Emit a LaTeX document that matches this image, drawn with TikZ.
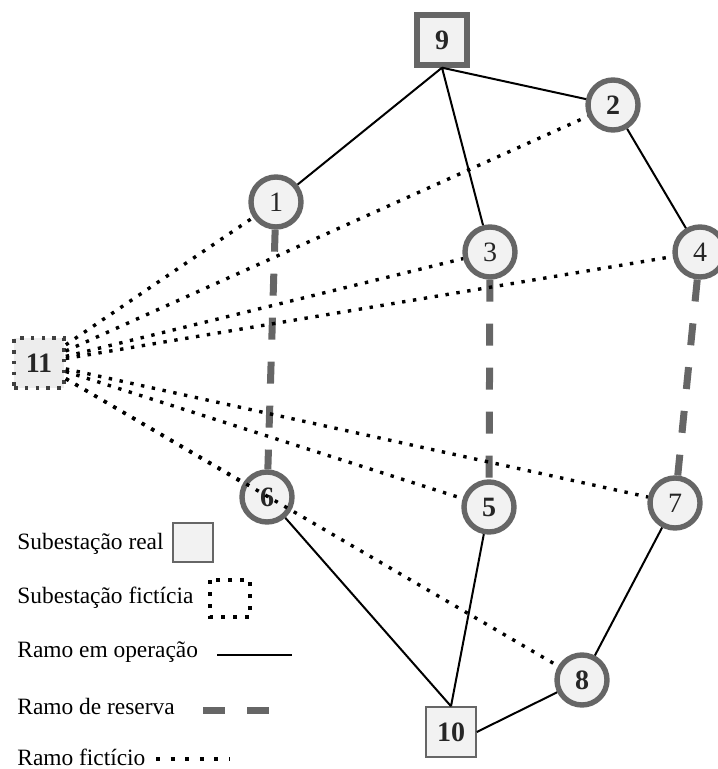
\documentclass[tikz,border=0pt]{standalone}
\usepackage{fontspec}
\setmainfont{Liberation Serif}
\definecolor{borda}{HTML}{666666}
\definecolor{fundo}{HTML}{F2F2F2}
\begin{document}
\begin{tikzpicture}[x=0.5pt,y=-0.5pt,
    barra/.style={circle,draw=borda,line width=2.7pt,fill=fundo,minimum size=25pt,inner sep=0pt,text=black!85,font=\fontsize{14}{14}\selectfont},
    sub/.style={rectangle,draw=borda,fill=fundo,minimum size=25pt,inner sep=0pt,text=black!85,font=\fontsize{14}{14}\selectfont\bfseries},
    operacao/.style={black,line width=1pt},
    reserva/.style={borda,line width=3.5pt,dash pattern=on 11pt off 11pt},
    ficticio/.style={black,line width=1.7pt,dash pattern=on 1.7pt off 3.8pt},
    legenda/.style={anchor=west,inner sep=0pt,font=\fontsize{11.7}{14}\selectfont}]
    \useasboundingbox (0,0) rectangle (717,769);
    % subestacoes
    \node[sub,line width=2.7pt] (n9) at (442,40) {9};
    \node[sub,line width=0.75pt] (n10) at (451,732) {10};
    \node[sub,draw=black!75,fill=black!7,line width=1.8pt,dash pattern=on 1.8pt off 3.6pt] (n11) at (39,363) {11};
    % barras
    \node[barra] (n1) at (276,202) {1};
    \node[barra,font=\fontsize{14}{14}\selectfont\bfseries] (n2) at (613,105) {2};
    \node[barra] (n3) at (490,252) {3};
    \node[barra] (n4) at (700,252) {4};
    \node[barra,font=\fontsize{14}{14}\selectfont\bfseries] (n5) at (489,507) {5};
    \node[barra,font=\fontsize{14}{14}\selectfont\bfseries] (n6) at (267,497) {6};
    \node[barra] (n7) at (675,503) {7};
    \node[barra,font=\fontsize{14}{14}\selectfont\bfseries] (n8) at (582,680) {8};
    % ramos em operacao
    \draw[operacao] (n9.south) -- (n1) (n9.south) -- (n3) (n9.south) -- (n2) -- (n4);
    \draw[operacao] (n6) -- (n10.north) (n5) -- (n10.north) (n10.east) -- (n8) -- (n7);
    % ramos de reserva
    \draw[reserva] (n1) -- (n6) (n3) -- (n5) (n4) -- (n7);
    % ramos ficticios
    \foreach \b in {1,2,3,4,5,6,7,8}
        \draw[ficticio] (n11) -- (n\b);
    % legenda
    \node[legenda] (l1) at (17,544) {Subestação real};
    \node[legenda] (l2) at (17,598) {Subestação fictícia};
    \node[legenda] (l3) at (17,652) {Ramo em operação};
    \node[legenda] (l4) at (17,706) {Ramo de reserva};
    \node[legenda] (l5) at (17,757) {Ramo fictício};
    \draw[draw=borda,fill=fundo,line width=0.75pt] (173,523) rectangle (213,562);
    \draw[ficticio,line width=2pt,dash pattern=on 2pt off 4pt] (210,580) rectangle (250,617);
    \draw[operacao] (217,655) -- (292,655);
    \draw[reserva] (203,710) -- (270,710);
    \draw[ficticio,line width=2pt,dash pattern=on 2pt off 5.3pt] (156,759) -- (230,759);
\end{tikzpicture}
\end{document}
